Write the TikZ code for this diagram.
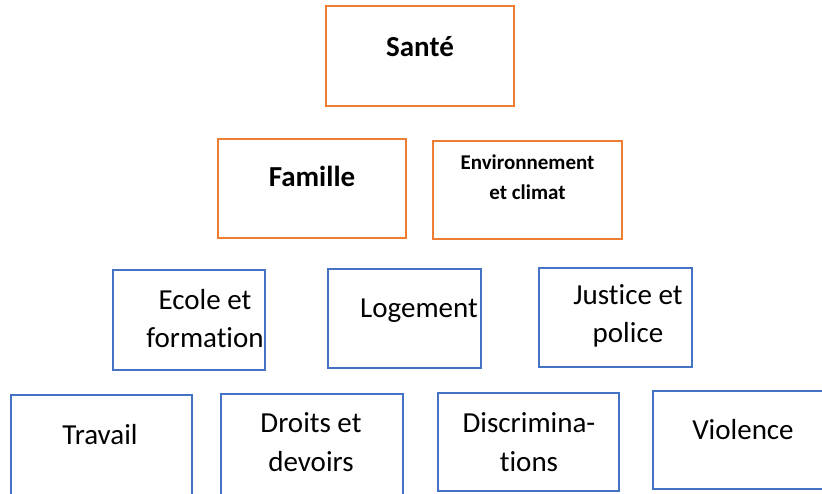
\documentclass[tikz,border=0pt]{standalone}
\usepackage{fontspec}
\setmainfont{Carlito}[Ligatures=NoCommon]
\usepackage{xcolor}
\usepackage{tikz}

\definecolor{boxorange}{HTML}{ED7D31}
\definecolor{boxblue}{HTML}{4472C4}

\tikzset{
  obox/.style={draw=boxorange, line width=2.4pt, shape=rectangle, inner sep=0pt},
  bbox/.style={draw=boxblue, line width=2.4pt, shape=rectangle, inner sep=0pt},
  btext/.style={anchor=base, align=center, inner sep=0pt, font=\bfseries\fontsize{29}{40}\selectfont},
  stext/.style={anchor=base, align=center, inner sep=0pt, font=\bfseries\fontsize{21}{30}\selectfont},
  rtext/.style={anchor=base, align=center, inner sep=0pt, font=\fontsize{29}{38.5}\selectfont}
}

\begin{document}
\begin{tikzpicture}[x=1pt,y=1pt]
                    \useasboundingbox (0,0) rectangle (822,493);
                    \clip (0,0) rectangle (822,493);
                    % orange boxes
                    \node[obox, minimum width=188pt, minimum height=100pt] (Sante) at (420,437) {};
                    \node[obox, minimum width=188pt, minimum height=99pt] (Famille) at (312,304.5) {};
                    \node[obox, minimum width=189pt, minimum height=98pt] (Env) at (527.5,303) {};
                    % blue boxes
                    \node[bbox, minimum width=152pt, minimum height=100pt] (Ecole) at (189,173) {};
                    \node[bbox, minimum width=153pt, minimum height=99pt] (Logement) at (404.5,174.5) {};
                    \node[bbox, minimum width=153pt, minimum height=99pt] (Justice) at (615.5,175.5) {};
                    \node[bbox, minimum width=181pt, minimum height=125pt] (Travail) at (101.5,35.5) {};
                    \node[bbox, minimum width=182pt, minimum height=125pt] (Droits) at (312,36.5) {};
                    \node[bbox, minimum width=181pt, minimum height=98pt] (Discrim) at (528.5,51) {};
                    \node[bbox, minimum width=185pt, minimum height=98pt] (Violence) at (745.5,53) {};
                    % texts
                    \node[btext] (SanteT) at (420,436.5) {Santé};
                    \node[btext] (FamilleT) at (312,306) {Famille};
                    \node[stext] (EnvT) at (527.5,293) {Environnement\\et climat};
                    \node[rtext] (EcoleT) at (205,145) {Ecole et\\formation};
                    \node[rtext] (LogementT) at (419,175) {Logement};
                    \node[rtext] (JusticeT) at (628,150) {Justice et\\police};
                    \node[rtext] (TravailT) at (100,49) {Travail};
                    \node[rtext] (DroitsT) at (311,22) {Droits et\\devoirs};
                    \node[rtext] (DiscrimT) at (529,22) {Discrimina-\\tions};
                    \node[rtext] (ViolenceT) at (743,54) {Violence};
                \end{tikzpicture}
\end{document}
